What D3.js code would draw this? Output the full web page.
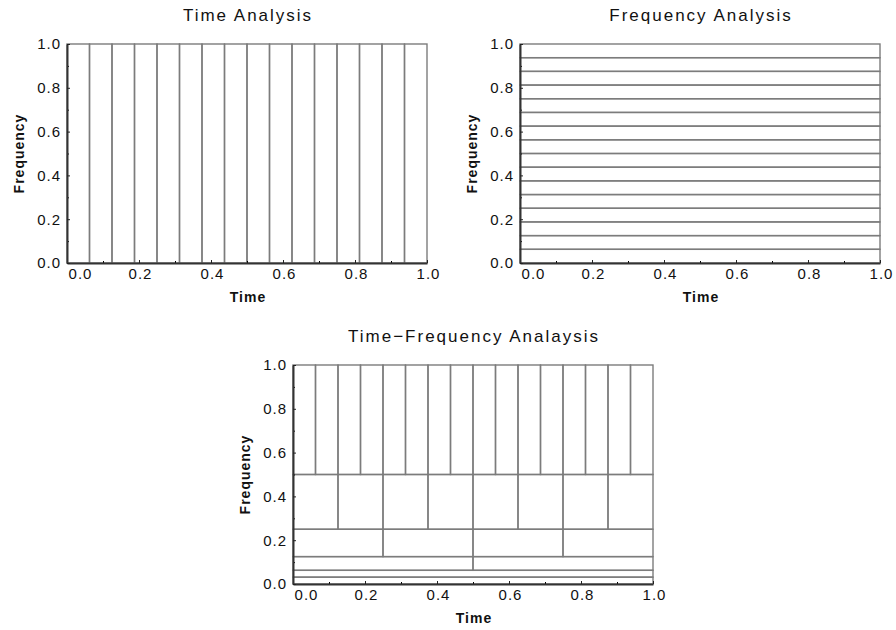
<!DOCTYPE html>
<html>
<head>
<meta charset="utf-8">
<script src="https://cdn.jsdelivr.net/npm/d3@7"></script>
<style>
  body { margin: 0; background: #fff; }
  svg { display: block; }
</style>
</head>
<body>
<svg id="chart" width="896" height="630"></svg>
<script>
// Time-only tiling: 16 equal time slots, each covering every frequency
const timeEdges = [0, 0.0625, 0.125, 0.1875, 0.25, 0.3125, 0.375, 0.4375, 0.5,
                   0.5625, 0.625, 0.6875, 0.75, 0.8125, 0.875, 0.9375, 1];
// Frequency-only tiling: 16 equal frequency bands, each covering all time
const freqEdges = [0, 0.0625, 0.125, 0.1875, 0.25, 0.3125, 0.375, 0.4375, 0.5,
                   0.5625, 0.625, 0.6875, 0.75, 0.8125, 0.875, 0.9375, 1];
// Dyadic (wavelet) tiling: octave bands and the number of time cells in each
const bandLow   = [0, 0.03125, 0.0625, 0.125, 0.25, 0.5];
const bandHigh  = [0.03125, 0.0625, 0.125, 0.25, 0.5, 1];
const bandCells = [1, 1, 2, 4, 8, 16];

const majorTicks = [0, 0.2, 0.4, 0.6, 0.8, 1];
const minorTicks = [0.1, 0.3, 0.5, 0.7, 0.9];
const tickLabels = ["0.0", "0.2", "0.4", "0.6", "0.8", "1.0"];
const titles = ["Time Analysis", "Frequency Analysis", "Time\u2212Frequency Analaysis"];
const xTitle = "Time";
const yTitle = "Frequency";

// Tiles for each panel
const timeTiles = d3.pairs(timeEdges).map(([t0, t1]) => ({ t0, t1, f0: 0, f1: 1 }));
const freqTiles = d3.pairs(freqEdges).map(([f0, f1]) => ({ t0: 0, t1: 1, f0, f1 }));
const tfTiles = [];
bandCells.forEach((n, i) => {
  const edges = d3.range(n + 1).map(j => j / n);
  d3.pairs(edges).forEach(([t0, t1]) => tfTiles.push({ t0, t1, f0: bandLow[i], f1: bandHigh[i] }));
});

const svg = d3.select("#chart");
svg.append("rect").attr("width", 896).attr("height", 630).attr("fill", "#fff");

const labelFont = "'Liberation Sans', Arial, sans-serif";

function panel(box, tiles, title) {
  const g = svg.append("g");
  const x = d3.scaleLinear([0, 1], [box.l, box.r]);
  const y = d3.scaleLinear([0, 1], [box.b, box.t]);

  // tile outlines
  g.append("g").selectAll("rect").data(tiles).join("rect")
    .attr("x", d => x(d.t0))
    .attr("y", d => y(d.f1))
    .attr("width", d => x(d.t1) - x(d.t0))
    .attr("height", d => y(d.f0) - y(d.f1))
    .attr("fill", "none")
    .attr("stroke", "#7c7c7c")
    .attr("stroke-width", 1.4);

  // minor ticks (unlabelled)
  g.append("g").attr("transform", `translate(0,${box.b})`)
    .call(d3.axisBottom(x).tickValues(minorTicks).tickFormat("").tickSizeInner(-2).tickSizeOuter(0))
    .call(a => a.select(".domain").remove());
  g.append("g").attr("transform", `translate(${box.l},0)`)
    .call(d3.axisLeft(y).tickValues(minorTicks).tickFormat("").tickSizeInner(-2).tickSizeOuter(0))
    .call(a => a.select(".domain").remove());

  // major axes
  const xa = g.append("g").attr("transform", `translate(0,${box.b})`)
    .call(d3.axisBottom(x).tickValues(majorTicks).tickFormat((d, i) => tickLabels[i])
      .tickSizeInner(-3).tickSizeOuter(0).tickPadding(5));
  const ya = g.append("g").attr("transform", `translate(${box.l},0)`)
    .call(d3.axisLeft(y).tickValues(majorTicks).tickFormat((d, i) => tickLabels[i])
      .tickSizeInner(-3).tickSizeOuter(0).tickPadding(6));

  [xa, ya].forEach(a => {
    a.attr("font-family", labelFont).attr("font-size", 15);
    a.selectAll("text").attr("fill", "#111").style("letter-spacing", "1px");
    a.selectAll(".tick line").attr("stroke", "#222");
    a.select(".domain").attr("stroke", "#333").attr("stroke-width", 2);
  });
  // first time label sits just right of the origin
  xa.selectAll(".tick text").filter((d, i) => i === 0).attr("dx", 13);
  xa.selectAll(".tick text").filter((d, i) => i > 0).attr("dx", 1);

  // panel title
  g.append("text")
    .attr("x", (box.l + box.r) / 2 + 1).attr("y", box.t - 23)
    .attr("text-anchor", "middle")
    .attr("font-family", labelFont).attr("font-size", 17)
    .style("letter-spacing", "2px")
    .attr("fill", "#111")
    .text(title);

  // axis titles
  g.append("text")
    .attr("x", (box.l + box.r) / 2 + 1).attr("y", box.b + 39)
    .attr("text-anchor", "middle")
    .attr("font-family", labelFont).attr("font-size", 14).attr("font-weight", "bold")
    .style("letter-spacing", "1px")
    .attr("fill", "#111")
    .text(xTitle);
  g.append("text")
    .attr("transform", `translate(${box.l - 43},${(box.t + box.b) / 2}) rotate(-90)`)
    .attr("text-anchor", "middle")
    .attr("font-family", labelFont).attr("font-size", 14).attr("font-weight", "bold")
    .style("letter-spacing", "1px")
    .attr("fill", "#111")
    .text(yTitle);
}

panel({ l: 67,  r: 427, t: 44,  b: 263 }, timeTiles, titles[0]);
panel({ l: 520, r: 880, t: 44,  b: 263 }, freqTiles, titles[1]);
panel({ l: 293, r: 653, t: 365, b: 584 }, tfTiles,   titles[2]);
</script>
</body>
</html>
